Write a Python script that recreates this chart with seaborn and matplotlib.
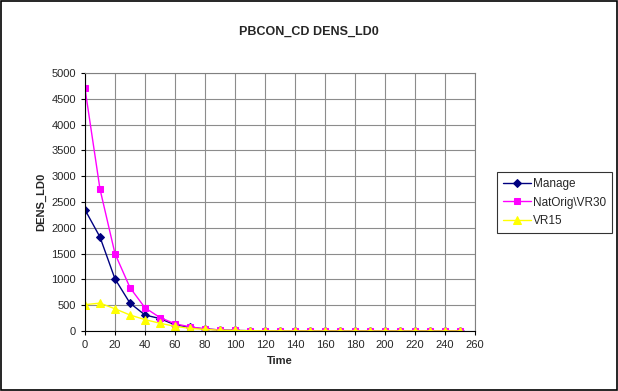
import seaborn as sns
import matplotlib.pyplot as plt
import pandas as pd

# Data
time = list(range(0, 260, 10))
manage = [2350, 1820, 1010, 540, 310, 240, 120, 70, 40, 20, 10, 5, 3, 2, 1, 1, 0, 0, 0, 0, 0, 0, 0, 0, 0, 0]
natorig = [4700, 2750, 1500, 840, 450, 260, 140, 80, 40, 20, 10, 5, 3, 2, 1, 1, 0, 0, 0, 0, 0, 0, 0, 0, 0, 0]
vr15 = [510, 540, 430, 310, 220, 150, 90, 50, 30, 15, 10, 5, 3, 2, 1, 1, 0, 0, 0, 0, 0, 0, 0, 0, 0, 0]

df = pd.DataFrame({'Time': time, 'Manage': manage, 'NatOrig\\VR30': natorig, 'VR15': vr15})
long = df.melt(id_vars='Time', var_name='Series', value_name='DENS_LD0')

sns.set_style('white')
plt.rcParams['font.family'] = ['Liberation Sans', 'DejaVu Sans']

fig = plt.figure(figsize=(6.18, 3.91), dpi=100)
ax = fig.add_axes([0.1375, 0.1535, 0.631, 0.66])

palette = {'Manage': '#000080', 'NatOrig\\VR30': '#FF00FF', 'VR15': '#FFFF00'}
markers = {'Manage': 'D', 'NatOrig\\VR30': 's', 'VR15': '^'}
sizes = {'Manage': 4, 'NatOrig\\VR30': 5, 'VR15': 6}

for name in ['Manage', 'NatOrig\\VR30', 'VR15']:
    sub = long[long['Series'] == name]
    sns.lineplot(data=sub, x='Time', y='DENS_LD0', ax=ax, color=palette[name],
                 marker=markers[name], markersize=sizes[name], markeredgecolor=palette[name],
                 linewidth=1, label=name)

ax.set_xlim(0, 260)
ax.set_ylim(0, 5000)
ax.set_xticks(range(0, 261, 20))
ax.set_yticks(range(0, 5001, 500))
ax.grid(True, color='#8c8c8c', linewidth=0.8)
ax.tick_params(axis='both', labelsize=8, length=3, direction='out', color='black')
ax.tick_params(axis='both', which='both', bottom=True, left=True)
for s in ['top', 'right']:
    ax.spines[s].set_color('#808080')
for s in ['left', 'bottom']:
    ax.spines[s].set_color('black')

ax.set_xlabel('Time', fontsize=8, fontweight='bold')
ax.set_ylabel('DENS_LD0', fontsize=8, fontweight='bold')
fig.suptitle('PBCON_CD DENS_LD0', fontsize=9, fontweight='bold', y=0.935)

handles, labels = ax.get_legend_handles_labels()
ax.get_legend().remove()
leg = fig.legend(handles, labels, loc='center left', bbox_to_anchor=(0.805, 0.482), fontsize=8.5,
                 frameon=True, fancybox=False, edgecolor='black', handlelength=2.3,
                 handletextpad=0.2, borderpad=0.5, labelspacing=0.55, borderaxespad=0)
leg.get_frame().set_linewidth(0.8)

fig.patches.append(plt.Rectangle((0.001, 0.002), 0.997, 0.996, transform=fig.transFigure,
                                 fill=False, edgecolor='black', linewidth=1.2))

plt.savefig('out.png', dpi=100)
